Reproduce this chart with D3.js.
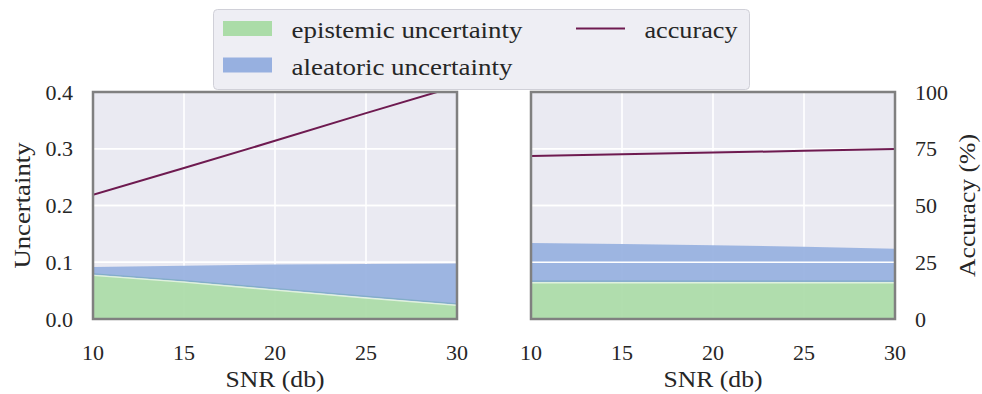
<!DOCTYPE html>
<html>
<head>
<meta charset="utf-8">
<script src="https://cdn.jsdelivr.net/npm/d3@7"></script>
<style>
  body { margin: 0; background: #fff; }
  text { font-family: "Liberation Serif", serif; fill: #262626; }
</style>
</head>
<body>
<div id="chart"></div>
<script>
//data
const snr = [10, 15, 20, 25, 30];

//left panel
const leftEpistemic = [0.078, 0.066, 0.052, 0.038, 0.025];
const leftAleatoric = [0.0135, 0.028, 0.044, 0.059, 0.073];
const leftAccuracy = [54.7, 66.5, 78.5, 90.7, 102.6];

//right panel
const rightEpistemic = [0.065, 0.065, 0.065, 0.065, 0.065];
const rightAleatoric = [0.069, 0.067, 0.065, 0.0625, 0.059];
const rightAccuracy = [71.8, 72.6, 73.3, 74.1, 74.9];

const xTicks = [10, 15, 20, 25, 30];
const uncTicks = [0, 0.1, 0.2, 0.3, 0.4];
const accTicks = [0, 25, 50, 75, 100];

//size
const width = 982;
const height = 394;
const plotTop = 92;
const plotBottom = 319;

//colors
const bg = "#eaeaf2";
const green = "#abdca8";
const blue = "#97b0e0";
const lineColor = "#6e1a50";
const spine = "#808080";

//serif labels are a bit wider than Liberation, so stretch them
const labelSize = 23;

const svg = d3
  .select("#chart")
  .append("svg")
  .attr("width", width)
  .attr("height", height);

const yUnc = d3.scaleLinear().domain([0, 0.4]).range([plotBottom, plotTop]);
const yAcc = d3.scaleLinear().domain([0, 100]).range([plotBottom, plotTop]);

function label(sel, text, len) {
  return sel
    .attr("font-size", labelSize)
    .attr("textLength", len)
    .attr("lengthAdjust", "spacingAndGlyphs")
    .text(text);
}

function panel(x0, x1, epi, ale, acc, id) {
  const x = d3.scaleLinear().domain([10, 30]).range([x0, x1]);
  const g = svg.append("g");
  const rows = snr.map((s, i) => ({ s, e: epi[i], a: ale[i], acc: acc[i] }));

  g.append("clipPath")
    .attr("id", id)
    .append("rect")
    .attr("x", x0)
    .attr("y", plotTop)
    .attr("width", x1 - x0)
    .attr("height", plotBottom - plotTop);

  //background
  g.append("rect")
    .attr("x", x0)
    .attr("y", plotTop)
    .attr("width", x1 - x0)
    .attr("height", plotBottom - plotTop)
    .attr("fill", bg);

  //vertical grid (below areas)
  g.selectAll("line.vgrid")
    .data(xTicks)
    .enter()
    .append("line")
    .attr("x1", (d) => x(d))
    .attr("x2", (d) => x(d))
    .attr("y1", plotTop)
    .attr("y2", plotBottom)
    .attr("stroke", "#fff")
    .attr("stroke-width", 1.6);

  //horizontal grid of the main axis
  g.selectAll("line.hgrid")
    .data(uncTicks)
    .enter()
    .append("line")
    .attr("x1", x0)
    .attr("x2", x1)
    .attr("y1", (d) => yUnc(d))
    .attr("y2", (d) => yUnc(d))
    .attr("stroke", "#fff")
    .attr("stroke-width", 1.6);

  //aleatoric stacked on epistemic
  g.append("path")
    .datum(rows)
    .attr("fill", blue)
    .attr("fill-opacity", 0.93)
    .attr(
      "d",
      d3.area().x((d) => x(d.s)).y0((d) => yUnc(d.e)).y1((d) => yUnc(d.e + d.a))
    );

  //epistemic
  g.append("path")
    .datum(rows)
    .attr("fill", green)
    .attr("fill-opacity", 0.93)
    .attr("d", d3.area().x((d) => x(d.s)).y0(yUnc(0)).y1((d) => yUnc(d.e)));

  //edge between the two areas
  g.append("path")
    .datum(rows)
    .attr("fill", "none")
    .attr("stroke", "#6fa8b6")
    .attr("stroke-opacity", 0.6)
    .attr("stroke-width", 1.2)
    .attr("transform", "translate(0,-1)")
    .attr("d", d3.line().x((d) => x(d.s)).y((d) => yUnc(d.e)));
  g.append("path")
    .datum(rows)
    .attr("fill", "none")
    .attr("stroke", "#fff")
    .attr("stroke-opacity", 0.6)
    .attr("stroke-width", 1.4)
    .attr("transform", "translate(0,0.6)")
    .attr("d", d3.line().x((d) => x(d.s)).y((d) => yUnc(d.e)));

  //twin axis grid sits on top
  g.selectAll("line.hgrid2")
    .data(accTicks.slice(1, 4))
    .enter()
    .append("line")
    .attr("x1", x0)
    .attr("x2", x1)
    .attr("y1", (d) => yAcc(d))
    .attr("y2", (d) => yAcc(d))
    .attr("stroke", "#fff")
    .attr("stroke-width", 1.6);

  //accuracy
  g.append("path")
    .datum(rows)
    .attr("clip-path", `url(#${id})`)
    .attr("fill", "none")
    .attr("stroke", lineColor)
    .attr("stroke-width", 2)
    .attr("d", d3.line().x((d) => x(d.s)).y((d) => yAcc(d.acc)));

  //frame
  g.append("rect")
    .attr("x", x0)
    .attr("y", plotTop)
    .attr("width", x1 - x0)
    .attr("height", plotBottom - plotTop)
    .attr("fill", "none")
    .attr("stroke", spine)
    .attr("stroke-width", 2.5);

  //x ticks
  g.selectAll("text.xt")
    .data(xTicks)
    .enter()
    .append("text")
    .attr("x", (d) => x(d))
    .attr("y", 360)
    .attr("text-anchor", "middle")
    .attr("font-size", 22)
    .text((d) => d);

  g.append("text")
    .attr("x", (x0 + x1) / 2)
    .attr("y", 387)
    .attr("text-anchor", "middle")
    .call(label, "SNR (db)", 99);
}

panel(93, 457, leftEpistemic, leftAleatoric, leftAccuracy, "clipL");
panel(531, 895, rightEpistemic, rightAleatoric, rightAccuracy, "clipR");

//left y ticks
svg
  .selectAll("text.yl")
  .data(uncTicks)
  .enter()
  .append("text")
  .attr("x", 73)
  .attr("y", (d) => yUnc(d))
  .attr("dy", "0.35em")
  .attr("text-anchor", "end")
  .attr("font-size", 22)
  .text((d) => d.toFixed(1));

//right y ticks
svg
  .selectAll("text.yr")
  .data(accTicks)
  .enter()
  .append("text")
  .attr("x", 915)
  .attr("y", (d) => yAcc(d))
  .attr("dy", "0.35em")
  .attr("font-size", 22)
  .text((d) => d);

svg
  .append("text")
  .attr("transform", `translate(30,${(plotTop + plotBottom) / 2}) rotate(-90)`)
  .attr("text-anchor", "middle")
  .call(label, "Uncertainty", 126);

svg
  .append("text")
  .attr("transform", `translate(975,${(plotTop + plotBottom) / 2}) rotate(-90)`)
  .attr("text-anchor", "middle")
  .call(label, "Accuracy (%)", 143);

//legend
const legend = svg.append("g");
legend
  .append("rect")
  .attr("x", 213.5)
  .attr("y", 9.5)
  .attr("width", 536)
  .attr("height", 80)
  .attr("rx", 4)
  .attr("fill", "#eeeef4")
  .attr("stroke", "#d0d0d8");

const items = [
  { text: "epistemic uncertainty", len: 231, color: green, kind: "patch", x: 223, y: 28.5 },
  { text: "aleatoric uncertainty", len: 221, color: blue, kind: "patch", x: 223, y: 65 },
  { text: "accuracy", len: 93, color: lineColor, kind: "line", x: 576, y: 28.5 },
];

items.forEach((d) => {
  if (d.kind === "patch") {
    legend
      .append("rect")
      .attr("x", d.x)
      .attr("y", d.y - 7.5)
      .attr("width", 49)
      .attr("height", 15)
      .attr("fill", d.color);
  } else {
    legend
      .append("line")
      .attr("x1", d.x)
      .attr("x2", d.x + 49)
      .attr("y1", d.y)
      .attr("y2", d.y)
      .attr("stroke", d.color)
      .attr("stroke-width", 2);
  }
  legend
    .append("text")
    .attr("x", d.x + 68.5)
    .attr("y", d.y + 9.5)
    .call(label, d.text, d.len);
});
</script>
</body>
</html>
